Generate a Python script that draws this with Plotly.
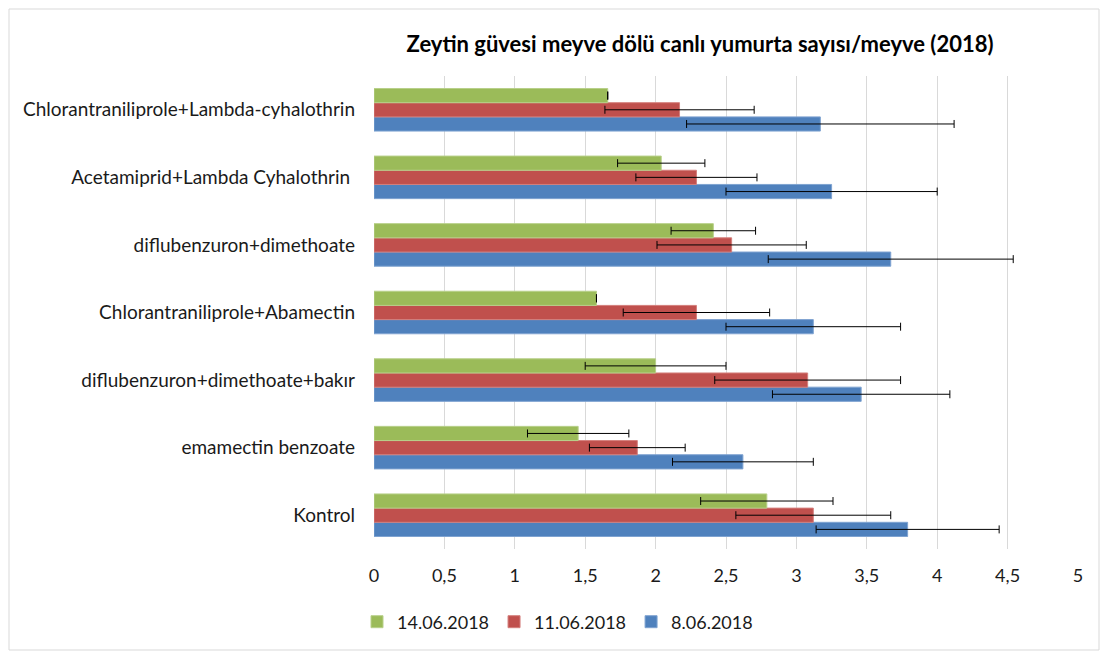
import plotly.graph_objects as go

categories = [
    "Kontrol",
    "emamectin benzoate",
    "diflubenzuron+dimethoate+bakır",
    "Chlorantraniliprole+Abamectin",
    "diflubenzuron+dimethoate",
    "Acetamiprid+Lambda Cyhalothrin ",
    "Chlorantraniliprole+Lambda-cyhalothrin",
]

s_0806 = [3.79, 2.62, 3.46, 3.12, 3.67, 3.25, 3.17]
e_0806 = [0.65, 0.50, 0.63, 0.62, 0.87, 0.75, 0.95]
s_1106 = [3.12, 1.87, 3.08, 2.29, 2.54, 2.29, 2.17]
e_1106 = [0.55, 0.34, 0.66, 0.52, 0.53, 0.43, 0.53]
s_1406 = [2.79, 1.45, 2.00, 1.58, 2.41, 2.04, 1.66]
e_1406 = [0.47, 0.36, 0.50, 0.00, 0.30, 0.31, 0.00]

tick_vals = [0, 0.5, 1, 1.5, 2, 2.5, 3, 3.5, 4, 4.5, 5]
tick_text = ["0", "0,5", "1", "1,5", "2", "2,5", "3", "3,5", "4", "4,5", "5"]

series = [
    ("8.06.2018", s_0806, e_0806, "#4F81BD", "#7FA3D1"),
    ("11.06.2018", s_1106, e_1106, "#C0504D", "#D47F7C"),
    ("14.06.2018", s_1406, e_1406, "#9BBB59", "#B8D08A"),
]

FONT = "Lato, 'Open Sans', sans-serif"
TXT = "#1a1a1a"

fig = go.Figure()
for name, vals, errs, col, edge in series:
    fig.add_trace(go.Bar(
        y=categories, x=vals, name=name, orientation="h",
        marker=dict(color=col, line=dict(color=edge, width=1)),
        error_x=dict(type="data", array=errs, visible=True,
                     color="#000000", thickness=1, width=4),
    ))

# page body has an 8px margin; figure sized to fit the window
W, H = 1092, 643
ml, mr, mt, mb = 366, 22, 68, 102
PW, PH = W - ml - mr, H - mt - mb

fig.update_layout(
    width=W, height=H,
    barmode="group", bargap=0.37, bargroupgap=0,
    paper_bgcolor="white", plot_bgcolor="white",
    margin=dict(l=ml, r=mr, t=mt, b=mb, autoexpand=False),
    font=dict(family=FONT, size=19, color=TXT),
    title=dict(text="<b>Zeytin güvesi meyve dölü canlı yumurta sayısı/meyve (2018)</b>",
               x=692 / W, xref="container", xanchor="center",
               y=1 - 36 / H, yref="container", yanchor="middle",
               font=dict(family=FONT, size=22, color="#000000")),
    xaxis=dict(range=[0, 5], tickvals=tick_vals, ticktext=tick_text,
               showgrid=True, gridcolor="#D9D9D9", gridwidth=1,
               zeroline=False, showline=False, ticks="",
               ticklabelstandoff=14,
               tickfont=dict(size=18, color=TXT)),
    yaxis=dict(type="category", categoryorder="array", categoryarray=categories,
               showgrid=False, zeroline=False, showline=False, ticks="",
               ticklabelstandoff=18,
               tickfont=dict(size=19, color=TXT)),
    legend=dict(orientation="h", traceorder="reversed",
                x=-17 / PW, xanchor="left", y=-(614 - (H - mb)) / PH, yanchor="middle",
                font=dict(size=18, color=TXT), itemwidth=30),
    shapes=[dict(type="rect", xref="paper", yref="paper",
                 x0=-(ml - 1) / PW, x1=1 + (mr - 1) / PW,
                 y0=-(mb - 1) / PH, y1=1 + (mt - 1) / PH,
                 line=dict(color="#D9D9D9", width=1))],
)

fig.write_html("out.html")
